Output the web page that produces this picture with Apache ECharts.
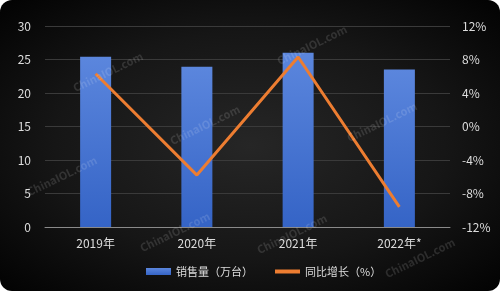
<!DOCTYPE html>
<html><head><meta charset="utf-8">
<script src="https://cdn.jsdelivr.net/npm/echarts@6/dist/echarts.min.js"></script>
<style>
html,body{margin:0;padding:0;background:#fff;}
#c{width:500px;height:291px;border-radius:12px;overflow:hidden;background:radial-gradient(ellipse at 50% 50%, #262626 0%, #161616 55%, #020202 100%);}
</style></head><body>
<div id="c"></div>
<script>
var categories = ['2019年','2020年','2021年','2022年*'];
var sales = [25.4, 23.9, 26.0, 23.5];
var growth = [6.3, -5.8, 8.3, -9.6];
var leftTicks = {min:0, max:30, interval:5};
var rightTicks = {min:-12, max:12, interval:4};
var watermarks = [[108,72],[205,125],[312,45],[382,122],[62,176],[175,232],[292,234],[420,258]];

var chart = echarts.init(document.getElementById('c'), null, {renderer:'canvas'});
var font = '"Noto Sans CJK SC", "Noto Sans", sans-serif';
var graphics = watermarks.map(function(p){
  return {type:'text', x:p[0], y:p[1], rotation:0.45, z:100,
    style:{text:'ChinaIOL.com', fill:'rgba(255,255,255,0.13)', font:'bold 11px '+font, align:'center', verticalAlign:'middle'}};
});
chart.setOption({
  backgroundColor:'transparent',
  textStyle:{fontFamily:font},
  graphic: graphics,
  grid:{left:45, right:50, top:26, bottom:64},
  legend:{bottom:9, left:141, itemGap:20, itemWidth:25, itemHeight:7,
    textStyle:{color:'#dddddd', fontSize:11, fontFamily:font},
    data:[{name:'销售量（万台）', icon:'rect'},
          {name:'同比增长（%）', itemStyle:{color:'transparent', borderWidth:0}, lineStyle:{width:4}}]},
  xAxis:{type:'category', data:categories,
    axisLine:{lineStyle:{color:'#8a8a8a', width:1}}, axisTick:{show:false},
    axisLabel:{color:'#dddddd', fontSize:12, margin:10}},
  yAxis:[
    {type:'value', min:leftTicks.min, max:leftTicks.max, interval:leftTicks.interval,
      axisLabel:{color:'#dddddd', fontSize:12, margin:14},
      splitLine:{lineStyle:{color:'#3a3a3a'}}, axisLine:{show:false}},
    {type:'value', min:rightTicks.min, max:rightTicks.max, interval:rightTicks.interval,
      axisLabel:{color:'#dddddd', fontSize:12, formatter:'{value}%', margin:12},
      splitLine:{show:false}, axisLine:{show:false}}
  ],
  series:[
    {name:'销售量（万台）', type:'bar', data:sales, barWidth:31, yAxisIndex:0,
      itemStyle:{color:new echarts.graphic.LinearGradient(0,0,0,1,[{offset:0,color:'#5b86dd'},{offset:1,color:'#3564c6'}])}},
    {name:'同比增长（%）', type:'line', data:growth, yAxisIndex:1, symbol:'none',
      lineStyle:{color:'#ed7d31', width:3}, itemStyle:{color:'#ed7d31'}}
  ]
});
</script></body></html>
